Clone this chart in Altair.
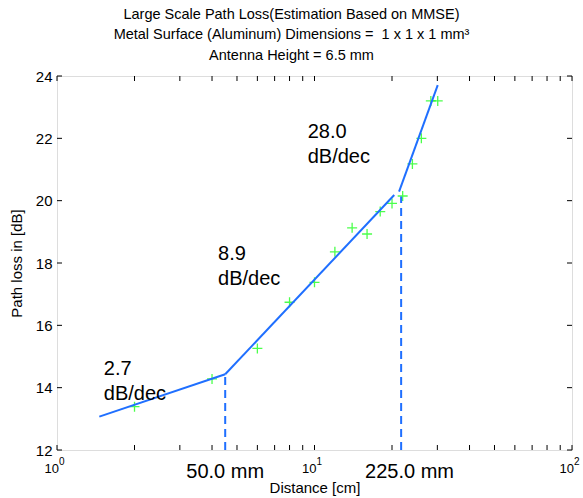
import altair as alt
import pandas as pd

# measured points (distance cm, path loss dB)
pt_x = [2, 4, 6, 8, 10, 12, 14, 16, 18, 20, 22, 24, 26, 28.3, 30.1]
pt_y = [13.39, 14.28, 15.26, 16.74, 17.38, 18.36, 19.13, 18.93, 19.65, 19.91, 20.15, 21.18, 22.0, 23.2, 23.2]

# fitted piecewise segments
seg_x = [1.46, 4.5, 4.5, 20.4, 21.3, 30.1]
seg_y = [13.07, 14.43, 14.43, 20.18, 20.29, 23.71]
seg_id = [1, 1, 2, 2, 3, 3]

# break points
brk_x = [4.5, 21.7]
brk_top = [14.43, 20.13]
brk_label_x = [4.5, 23.4]
brk_label = ["50.0 mm", "225.0 mm"]

# slope annotations
ann_x = [1.52, 4.22, 9.41]
ann_y = [14.41, 18.10, 22.02]
ann_text = ["2.7\ndB/dec", "8.9\ndB/dec", "28.0\ndB/dec"]

# axes
y_ticks = [12, 14, 16, 18, 20, 22, 24]
x_ticks = [1, 2, 3, 4, 5, 6, 7, 8, 9, 10, 20, 30, 40, 50, 60, 70, 80, 90, 100]
decades = [1, 10, 100]
decade_exp = ["0", "1", "2"]

W, H = 515, 374
BLUE = "#1f6fff"
FONT = "Liberation Sans"

pts = pd.DataFrame({"x": pt_x, "y": pt_y})
segs = pd.DataFrame({"x": seg_x, "y": seg_y, "seg": seg_id})
brk = pd.DataFrame({"x": brk_x, "top": brk_top, "bottom": [12] * len(brk_x)})
brkl = pd.DataFrame({"x": brk_label_x, "t": brk_label})
ann = pd.DataFrame({"x": ann_x, "y": ann_y, "t": ann_text})
xt = pd.DataFrame({"x": x_ticks})
yt = pd.DataFrame({"y": y_ticks})
dec = pd.DataFrame({"x": decades, "e": decade_exp, "b": ["10"] * 3})

xs = alt.Scale(type="log", domain=[1, 100], nice=False)
ys = alt.Scale(domain=[12, 24], nice=False, zero=False)

xax = alt.Axis(labels=False, ticks=False, domain=False, grid=False,
               title="Distance [cm]", titleFontSize=15, titleFont=FONT,
               titleFontWeight="normal", titlePadding=30, titleColor="black")
yax = alt.Axis(values=y_ticks, ticks=False, domain=False, grid=False,
               labelFontSize=15, labelFont=FONT, labelColor="black", labelPadding=5,
               title="Path loss in [dB]", titleFontSize=15, titleFont=FONT,
               titleFontWeight="normal", titlePadding=11, titleColor="black")

base_pts = alt.Chart(pts).mark_point(
    shape="M-1,0L1,0M0,-1L0,1", filled=False, color="#00ff00", size=100, strokeWidth=1.3
).encode(x=alt.X("x:Q", scale=xs, axis=xax), y=alt.Y("y:Q", scale=ys, axis=yax))

lines = alt.Chart(segs).mark_line(color=BLUE, strokeWidth=2).encode(
    x=alt.X("x:Q", scale=xs), y=alt.Y("y:Q", scale=ys), detail="seg:N")

dash = alt.Chart(brk).mark_rule(color=BLUE, strokeWidth=2, strokeDash=[8, 5]).encode(
    x=alt.X("x:Q", scale=xs), y=alt.Y("bottom:Q", scale=ys), y2="top:Q")

dash_lbl = alt.Chart(brkl).mark_text(font=FONT, fontSize=20, align="center",
                                     baseline="alphabetic", color="black").encode(
    x=alt.X("x:Q", scale=xs), y=alt.value(H + 28), text="t:N")

ann_txt = alt.Chart(ann).mark_text(font=FONT, fontSize=20, align="left", baseline="alphabetic",
                                   lineBreak="\n", lineHeight=25.5, color="black").encode(
    x=alt.X("x:Q", scale=xs), y=alt.Y("y:Q", scale=ys), text="t:N")

tick_style = dict(color="black", strokeWidth=1)
xt_bot = alt.Chart(xt).mark_rule(**tick_style).encode(
    x=alt.X("x:Q", scale=xs), y=alt.value(H), y2=alt.value(H - 5))
xt_top = alt.Chart(xt).mark_rule(**tick_style).encode(
    x=alt.X("x:Q", scale=xs), y=alt.value(0), y2=alt.value(5))
yt_left = alt.Chart(yt).mark_rule(**tick_style).encode(
    y=alt.Y("y:Q", scale=ys), x=alt.value(0), x2=alt.value(5))
yt_right = alt.Chart(yt).mark_rule(**tick_style).encode(
    y=alt.Y("y:Q", scale=ys), x=alt.value(W), x2=alt.value(W - 5))

dec_base = alt.Chart(dec).mark_text(font=FONT, fontSize=13, align="right", dx=2,
                                    baseline="alphabetic", color="black").encode(
    x=alt.X("x:Q", scale=xs), y=alt.value(H + 23), text="b:N")
dec_exp = alt.Chart(dec).mark_text(font=FONT, fontSize=10, align="left", dx=2,
                                   baseline="alphabetic", color="black").encode(
    x=alt.X("x:Q", scale=xs), y=alt.value(H + 15), text="e:N")

chart = alt.layer(
    base_pts, lines, dash, dash_lbl, ann_txt, xt_bot, xt_top, yt_left, yt_right, dec_base, dec_exp
).properties(
    width=W, height=H,
    title=alt.Title(
        ["Large Scale Path Loss(Estimation Based on MMSE)",
         "Metal Surface (Aluminum) Dimensions =\u00a0 1 x 1 x 1 mm\u00b3",
         "Antenna Height = 6.5 mm"],
        font=FONT, fontSize=14.5, fontWeight="normal", color="black",
        lineHeight=20.5, anchor="middle", dx=-23, dy=20, offset=12, baseline="bottom"),
    autosize=alt.AutoSizeParams(type="none"),
    padding={"left": 57, "top": 76, "right": 11, "bottom": 48},
).configure_view(stroke="black", strokeWidth=1.5).configure(background="white")

chart.save("out.html", embed_options={"renderer": "svg", "actions": False})
